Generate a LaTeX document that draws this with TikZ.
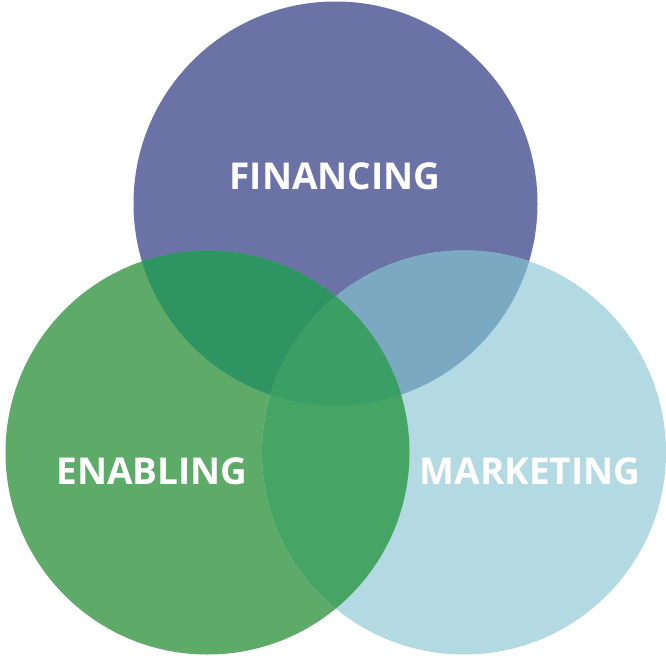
\documentclass[tikz,border=0pt]{standalone}
\usepackage{fontspec}
\setmainfont{Open Sans}
\definecolor{cTop}{HTML}{6B73A6}
\definecolor{cLeft}{HTML}{5EAA68}
\definecolor{cRight}{HTML}{B3DAE2}
\definecolor{cTL}{HTML}{2E9562}
\definecolor{cTR}{HTML}{7BA9C2}
\definecolor{cLR}{HTML}{46A565}
\definecolor{cAll}{HTML}{3B9E64}
\tikzset{
  label/.style={text=white, font=\bfseries\fontsize{37}{40}\selectfont, inner sep=0pt}
}
\begin{document}
\begin{tikzpicture}[x=1pt,y=-1pt]
\useasboundingbox (0,0) rectangle (666,657);
\def\rr{202}
\coordinate (T) at (335.5,203.5);
\coordinate (L) at (207.5,452.5);
\coordinate (R) at (464,452.5);
\fill[cTop] (T) circle (\rr);
\fill[cLeft] (L) circle (\rr);
\fill[cRight] (R) circle (\rr);
\begin{scope}
  \clip (T) circle (\rr);
  \fill[cTL] (L) circle (\rr);
  \fill[cTR] (R) circle (\rr);
\end{scope}
\begin{scope}
  \clip (L) circle (\rr);
  \fill[cLR] (R) circle (\rr);
  \clip (R) circle (\rr);
  \fill[cAll] (T) circle (\rr);
\end{scope}
\node[label] (fin) at (335,176) {FINANCING};
\node[label] (ena) at (152,471) {ENABLING};
\node[label] (mar) at (530,471) {MARKETING};
\end{tikzpicture}
\end{document}
